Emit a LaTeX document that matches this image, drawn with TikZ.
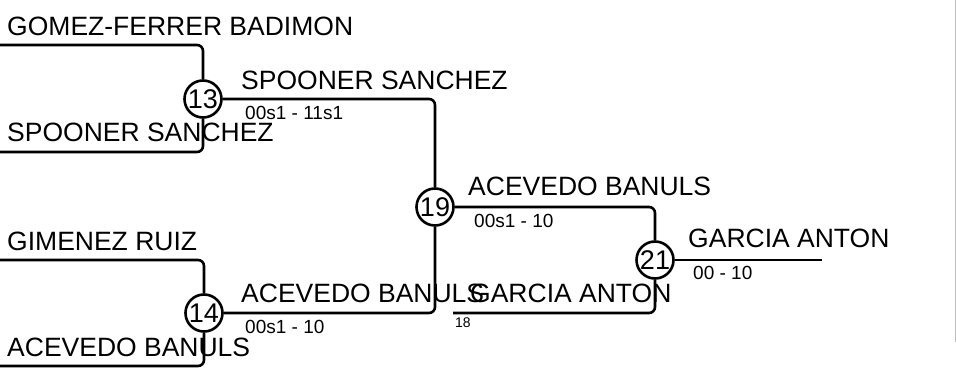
\documentclass[tikz,border=0pt]{standalone}
\usepackage{fontspec}
\setmainfont{Liberation Sans}
\usetikzlibrary{positioning}

\begin{document}
\begin{tikzpicture}[x=1pt, y=-1pt,
    match/.style={circle, draw, line width=2.6pt, minimum size=37pt, inner sep=0pt, font=\fontsize{27}{29}\selectfont},
    team/.style={anchor=base west, inner sep=0pt, font=\fontsize{26.5}{28}\selectfont},
    score/.style={anchor=base west, inner sep=0pt, font=\fontsize{19}{21}\selectfont},
    wire/.style={line width=2.6pt, rounded corners=6pt}]

    \useasboundingbox (0,0) rectangle (956,372);

    % matches
    \node[match] (m13) at (203,99) {13};
    \node[match] (m14) at (204,313) {14};
    \node[match] (m19) at (435,207) {19};
    \node[match] (m21) at (655,260) {21};

    % free ends
    \coordinate (s1) at (0,45);
    \coordinate (s2) at (0,152);
    \coordinate (s3) at (0,260);
    \coordinate (s4) at (0,366);
    \coordinate (s18) at (453,313);
    \coordinate (final) at (822,260);

    \draw[wire] (s1) -| (m13.north);
    \draw[wire] (s2) -| (m13.south);
    \draw[wire] (s3) -| (m14.north);
    \draw[wire] (s4) -| (m14.south);
    \draw[wire] (m13.east) -| (m19.north);
    \draw[wire] (m14.east) -| (m19.south);
    \draw[wire] (m19.east) -| (m21.north);
    \draw[wire] (s18) -| (m21.south);
    \draw[wire] (m21.east) -- (final);

    % team names
    \node[team] (t1) at (7,35) {GOMEZ-FERRER BADIMON};
    \node[team] (t2) at (7,141) {SPOONER SANCHEZ};
    \node[team] (t3) at (7,250) {GIMENEZ RUIZ};
    \node[team] (t4) at (7,356) {ACEVEDO BANULS};
    \node[team] (w13) at (241,89) {SPOONER SANCHEZ};
    \node[team] (w14) at (241,302) {ACEVEDO BANULS};
    \node[team] (w19) at (468,195) {ACEVEDO BANULS};
    \node[team] (t18) at (470,302) {GARCIA ANTON};
    \node[team] (w21) at (688,247) {GARCIA ANTON};

    % scores
    \node[score] (r13) at (245,119) {00s1 - 11s1};
    \node[score] (r14) at (245,333) {00s1 - 10};
    \node[score] (r19) at (474,227) {00s1 - 10};
    \node[score] (r21) at (693,279) {00 - 10};
    \node[score, font=\fontsize{14}{16}\selectfont] (n18) at (455,327) {18};

    \draw[gray!50, line width=1pt] (955,0) -- (955,342);
\end{tikzpicture}
\end{document}
